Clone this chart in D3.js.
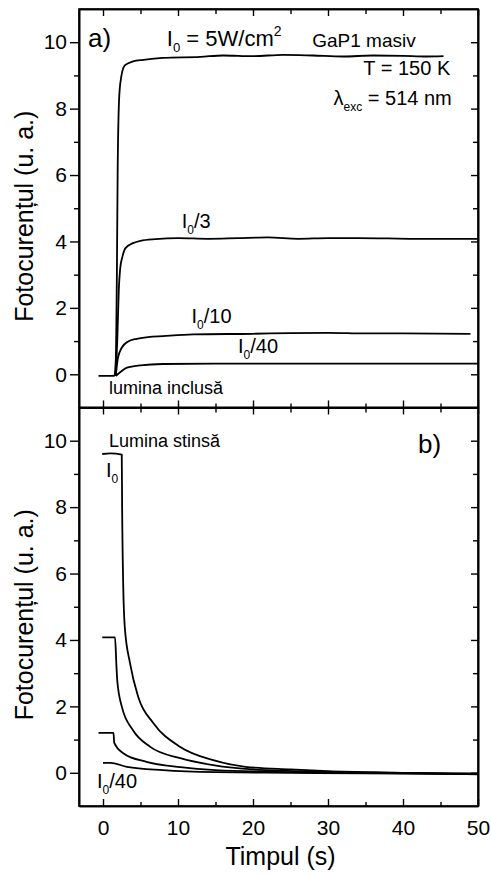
<!DOCTYPE html>
<html>
<head>
<meta charset="utf-8">
<script src="https://cdn.jsdelivr.net/npm/d3@7"></script>
<style>
  body { margin: 0; background: #fff; }
  svg text { font-family: "Liberation Sans", Arial, sans-serif; fill: #000; }
</style>
</head>
<body>
<div id="chart"></div>
<script>
// Fotocurent: rise (a) and decay (b) for several excitation intensities

// a) light switched on
const riseI0 = [[-0.6,-0.05],[1.5,-0.05],[1.7,0.4],[1.85,3],[1.95,6],[2.1,8],[2.3,8.75],[2.9,9.3],[4,9.42],[5.4,9.47],[8,9.53],[13,9.56],[16,9.6],[20,9.58],[24,9.62],[28,9.6],[32,9.57],[36,9.6],[40,9.59],[43,9.57],[45.4,9.58]];
const riseI3 = [[1.7,-0.05],[1.9,1.0],[2.1,2.5],[2.3,3.2],[2.6,3.55],[3,3.8],[4,3.95],[5,4.02],[7,4.07],[10,4.1],[14,4.08],[18,4.1],[22,4.12],[26,4.08],[30,4.1],[34,4.1],[38,4.09],[42,4.08],[46,4.08],[50,4.08]];
const riseI10 = [[1.7,-0.05],[2.0,0.5],[2.5,0.8],[3.3,0.98],[4.5,1.07],[6,1.12],[8,1.15],[12,1.2],[20,1.22],[25,1.24],[30,1.25],[35,1.23],[40,1.23],[49,1.22]];
const riseI40 = [[1.7,-0.05],[2.5,0.1],[3.2,0.2],[5,0.27],[8,0.31],[15,0.32],[30,0.32],[50,0.32]];

// b) light switched off
const decayI0 = [[-0.1,9.6],[1,9.62],[2.5,9.58],[2.55,8.0],[2.7,5.6],[2.9,4.4],[3.6,3.3],[4.7,2.28],[6.7,1.5],[10.3,0.78],[14.7,0.38],[19,0.18],[25,0.1],[30,0.05],[40,0.0],[50,-0.05]];
const decayI3 = [[-0.1,4.08],[1.6,4.08],[1.8,3.18],[1.9,2.78],[2.5,2.0],[4,1.28],[6.3,0.78],[10.3,0.44],[14.7,0.23],[20,0.1],[30,0.03],[40,0.0],[50,-0.02]];
const decayI10 = [[-0.6,1.2],[1.4,1.2],[1.5,0.9],[2.7,0.59],[5.8,0.33],[10.3,0.17],[15,0.08],[25,0.02],[35,0.0],[50,-0.04]];
const decayI40 = [[0,0.3],[1.0,0.3],[3.2,0.18],[8,0.08],[15,0.02],[25,0.0],[35,-0.02],[50,-0.04]];

const xTicks = [0, 10, 20, 30, 40, 50];
const xMinor = [5, 15, 25, 35, 45];
const yTicks = [0, 2, 4, 6, 8, 10];
const yMinor = [1, 3, 5, 7, 9];

const W = 491, H = 874;
const plotL = 79, plotR = 478, plotT = 9, plotB = 806;
const plotMid = (plotT + plotB) / 2;

const svg = d3.select('#chart').append('svg')
  .attr('width', W)
  .attr('height', H);

const x = d3.scaleLinear().domain([-3.2, 50]).range([plotL, plotR]);
const yA = d3.scaleLinear().domain([-1, 11]).range([plotMid, plotT]);
const yB = d3.scaleLinear().domain([-1, 11]).range([plotB, plotMid]);

function drawPanel(y, curves, isTop) {
  const g = svg.append('g');
  const noLab = () => '';

  // left axis, ticks outward
  g.append('g').attr('transform', `translate(${plotL},0)`)
    .call(d3.axisLeft(y).tickValues(yTicks).tickSize(9).tickSizeOuter(0).tickPadding(3))
    .call(a => a.selectAll('text').attr('font-size', 21).attr('font-family', '"Liberation Sans", Arial, sans-serif'));
  g.append('g').attr('transform', `translate(${plotL},0)`)
    .call(d3.axisLeft(y).tickValues(yMinor).tickSize(5).tickSizeOuter(0).tickFormat(noLab));

  // right axis, ticks inward
  g.append('g').attr('transform', `translate(${plotR},0)`)
    .call(d3.axisRight(y).tickValues(yTicks).tickSize(-7).tickSizeOuter(0).tickFormat(noLab));
  g.append('g').attr('transform', `translate(${plotR},0)`)
    .call(d3.axisRight(y).tickValues(yMinor).tickSize(-5).tickSizeOuter(0).tickFormat(noLab));

  const y0 = y.range()[1], y1 = y.range()[0];
  // top axis, inward
  g.append('g').attr('transform', `translate(0,${y0})`)
    .call(d3.axisTop(x).tickValues(xTicks).tickSize(-7).tickSizeOuter(0).tickFormat(noLab));
  g.append('g').attr('transform', `translate(0,${y0})`)
    .call(d3.axisTop(x).tickValues(xMinor).tickSize(-5).tickSizeOuter(0).tickFormat(noLab));
  // bottom axis, inward
  const bx = g.append('g').attr('transform', `translate(0,${y1})`)
    .call(d3.axisBottom(x).tickValues(xTicks).tickSize(-7).tickSizeOuter(0).tickPadding(14)
      .tickFormat(isTop ? noLab : d3.format('d')));
  bx.selectAll('text').attr('font-size', 21).attr('font-family', '"Liberation Sans", Arial, sans-serif');
  g.append('g').attr('transform', `translate(0,${y1})`)
    .call(d3.axisBottom(x).tickValues(xMinor).tickSize(-4).tickSizeOuter(0).tickFormat(noLab));

  g.selectAll('.domain').attr('stroke', '#000').attr('stroke-width', 1.6);
  g.selectAll('.tick line').attr('stroke', '#000').attr('stroke-width', 1.4);

  // frame
  g.append('rect')
    .attr('x', plotL).attr('y', y0)
    .attr('width', plotR - plotL).attr('height', y1 - y0)
    .attr('fill', 'none').attr('stroke', '#000').attr('stroke-width', 1.6);

  const line = d3.line()
    .x(d => x(d[0]))
    .y(d => y(d[1]))
    .curve(d3.curveMonotoneX);

  g.selectAll('path.curve')
    .data(curves)
    .enter()
    .append('path')
    .attr('class', 'curve')
    .attr('d', line)
    .attr('fill', 'none')
    .attr('stroke', '#000')
    .attr('stroke-width', 1.8);

  // y label
  svg.append('text')
    .attr('transform', `translate(33,${(y0 + y1) / 2 + 8}) rotate(-90)`)
    .attr('text-anchor', 'middle')
    .attr('font-size', 25)
    .text('Fotocurențul (u. a.)');
}

drawPanel(yA, [riseI40, riseI10, riseI3, riseI0], true);
drawPanel(yB, [decayI40, decayI10, decayI3, decayI0], false);

// x label
svg.append('text')
  .attr('x', (plotL + plotR) / 2 + 2)
  .attr('y', 865)
  .attr('text-anchor', 'middle')
  .attr('font-size', 25)
  .text('Timpul (s)');

// annotation helper: label with I0 style subscript
function iLabel(px, py, size, rest) {
  const t = svg.append('text').attr('x', px).attr('y', py).attr('font-size', size);
  t.append('tspan').text('I');
  t.append('tspan').attr('font-size', size * 0.6).attr('dy', size * 0.3).text('0');
  t.append('tspan').attr('dy', -size * 0.3).text(rest);
  return t;
}

// panel a annotations
svg.append('text').attr('x', x(-2.0)).attr('y', yA(9.86)).attr('font-size', 26).text('a)');
const lbl = iLabel(x(8.5), yA(9.9), 22, ' = 5W/cm');
lbl.append('tspan').attr('font-size', 14).attr('dy', -10).text('2');
svg.append('text').attr('x', x(27.9)).attr('y', yA(9.86)).attr('font-size', 19).text('GaP1 masiv');
svg.append('text').attr('x', x(46.3)).attr('y', yA(9.0)).attr('text-anchor', 'end').attr('font-size', 20).text('T = 150 K');
const lam = svg.append('text').attr('x', x(46.5)).attr('y', yA(8.1)).attr('text-anchor', 'end').attr('font-size', 20);
lam.append('tspan').text('λ');
lam.append('tspan').attr('font-size', 12).attr('dy', 6).text('exc');
lam.append('tspan').attr('dy', -6).text(' = 514 nm');
iLabel(x(10.5), yA(4.4), 20, '/3');
iLabel(x(11.8), yA(1.54), 20, '/10');
iLabel(x(18), yA(0.63), 20, '/40');
svg.append('text').attr('x', x(0.8)).attr('y', yA(-0.6)).attr('font-size', 18).text('lumina inclusă');

// panel b annotations
svg.append('text').attr('x', x(0.8)).attr('y', yB(9.82)).attr('font-size', 18).text('Lumina stinsă');
svg.append('text').attr('x', x(42)).attr('y', yB(9.63)).attr('font-size', 26).text('b)');
iLabel(x(0.4), yB(8.9), 20, '');
iLabel(x(-0.8), yB(-0.46), 20, '/40');
</script>
</body>
</html>
